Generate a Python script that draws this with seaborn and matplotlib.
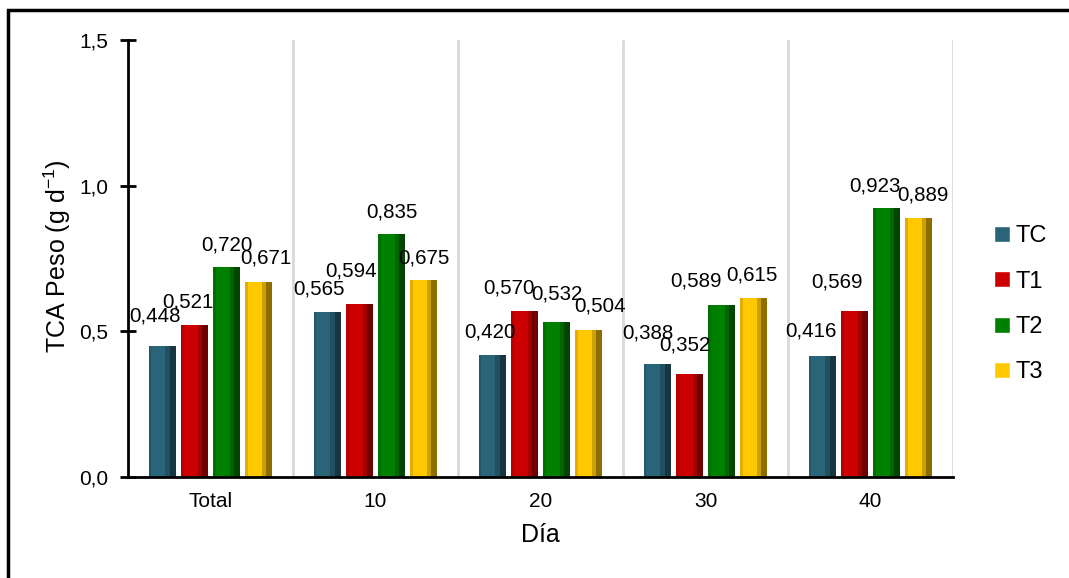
import matplotlib
matplotlib.use("Agg")
import matplotlib.pyplot as plt
import seaborn as sns
import pandas as pd
import numpy as np
from matplotlib.ticker import FuncFormatter, FixedLocator
from matplotlib.patches import Rectangle

categories = ["Total", "10", "20", "30", "40"]
series = ["TC", "T1", "T2", "T3"]
tc = [0.448, 0.565, 0.420, 0.388, 0.416]
t1 = [0.521, 0.594, 0.570, 0.352, 0.569]
t2 = [0.720, 0.835, 0.532, 0.589, 0.923]
t3 = [0.671, 0.675, 0.504, 0.615, 0.889]
colors = ["#2A6478", "#CC0000", "#008000", "#FFC800"]

# label placement (pixel offsets from bar top-centre), mimicking the reference
label_dx = [[-7, -8, -2, -9, -11],
            [-6, -8, -15, -4, -17],
            [0, 0, 0, -26, -12],
            [7, 0, 11, -2, 4]]
label_dy = [[30, 23, 23, 31, 25],
            [23, 33, 23, 29, 29],
            [22, 22, 28, 24, 22],
            [24, 22, 24, 23, 23]]

sns.set_style("white")
plt.rcParams["font.family"] = ["Liberation Sans", "DejaVu Sans"]
plt.rcParams["text.color"] = "black"
plt.rcParams["axes.labelcolor"] = "black"
plt.rcParams["xtick.color"] = "black"
plt.rcParams["ytick.color"] = "black"

rows = []
for name, vals in zip(series, [tc, t1, t2, t3]):
    for c, v in zip(categories, vals):
        rows.append({"Día": c, "Serie": name, "Valor": v})
df = pd.DataFrame(rows)

fig = plt.figure(figsize=(10.69, 5.78), dpi=100)
ax = fig.add_axes([128/1069, 1-477/578, (953-128)/1069, (477-40)/578])

sns.barplot(data=df, x="Día", y="Valor", hue="Serie", order=categories,
            hue_order=series, palette=colors, width=0.78, gap=0.16,
            ax=ax, legend=False, saturation=1, edgecolor="none")

# shading for bevel look
for bars in ax.containers:
    for b in bars:
        x0, w, h = b.get_x(), b.get_width(), b.get_height()
        z = b.get_zorder() + 0.1
        ax.add_patch(Rectangle((x0 + w*0.78, 0), w*0.22, h, facecolor="black",
                               alpha=0.45, edgecolor="none", zorder=z))
        ax.add_patch(Rectangle((x0 + w*0.62, 0), w*0.16, h, facecolor="black",
                               alpha=0.2, edgecolor="none", zorder=z))
        ax.add_patch(Rectangle((x0, 0), w*0.1, h, facecolor="black",
                               alpha=0.12, edgecolor="none", zorder=z))

fmt = lambda v: f"{v:.3f}".replace(".", ",")
for i, bars in enumerate(ax.containers):
    for j, b in enumerate(bars):
        xc = b.get_x() + b.get_width() / 2
        ax.annotate(fmt(b.get_height()), (xc, b.get_height()),
                    xytext=(label_dx[i][j], label_dy[i][j]), textcoords="offset pixels",
                    ha="center", va="center", fontsize=14.8, color="black")

ax.set_xlim(-0.5, 4.5)
ax.set_ylim(0, 1.5)
ax.yaxis.set_major_locator(FixedLocator([0, 0.5, 1.0, 1.5]))
ax.yaxis.set_major_formatter(FuncFormatter(lambda v, p: f"{v:.1f}".replace(".", ",")))
ax.xaxis.set_major_locator(FixedLocator(range(5)))
ax.set_xticklabels(categories)
ax.xaxis.set_minor_locator(FixedLocator([-0.5, 0.5, 1.5, 2.5, 3.5, 4.5]))
ax.tick_params(axis="x", which="major", length=0, labelsize=15, pad=11)
ax.tick_params(axis="x", which="minor", direction="inout", length=12, width=2, color="black")
ax.tick_params(axis="y", direction="inout", length=12, width=2, labelsize=15, pad=8, left=True)
for xb in [0.5, 1.5, 2.5, 3.5, 4.5]:
    ax.axvline(xb, color="#D9D9D9", lw=2, zorder=0)

for s in ["top", "right"]:
    ax.spines[s].set_visible(False)
for s in ["left", "bottom"]:
    ax.spines[s].set_color("black")
    ax.spines[s].set_linewidth(2)

ax.set_xlabel("Día", fontsize=18)
ax.set_ylabel("TCA Peso (g d$^{\\mathregular{-1}}$)", fontsize=18)
ax.xaxis.set_label_coords(0.5, -0.105)
ax.yaxis.set_label_coords(-0.067, 0.506)

handles = [Rectangle((0, 0), 1, 1, facecolor=c) for c in colors]
fig.legend(handles, series, loc="upper left", bbox_to_anchor=(973/1069, 1-204/578),
           frameon=False, fontsize=17, handlelength=0.65, handleheight=0.65,
           labelspacing=0.99, handletextpad=0.25)

fig.patches.append(Rectangle((8/1069, -0.1), 1.2, 1-10/578+0.1, transform=fig.transFigure,
                             fill=False, edgecolor="black", lw=2.5))

fig.savefig("out.png", dpi=100)
